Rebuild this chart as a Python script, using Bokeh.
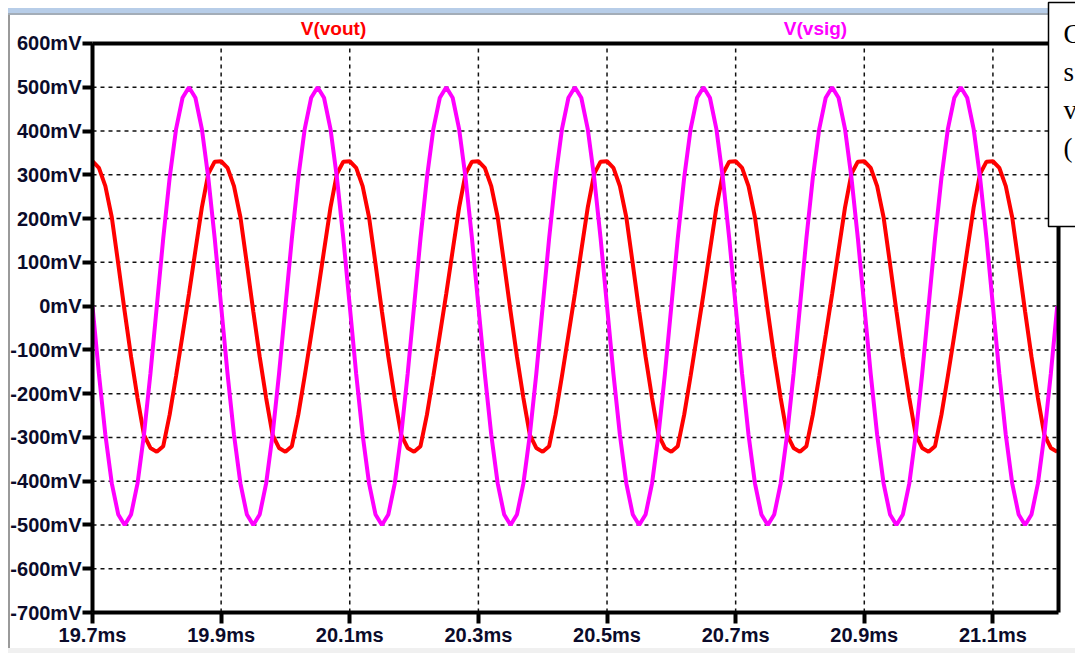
from bokeh.plotting import figure
from bokeh.models import (FixedTicker, PrintfTickFormatter, Label,
                          ColumnDataSource, Range1d)
from bokeh.embed import file_html
from bokeh.resources import INLINE

# ---------------- data ----------------
t_ms = [
    19.70, 19.71, 19.72, 19.73, 19.74, 19.75, 19.76, 19.77, 19.78, 19.79,
    19.80, 19.81, 19.82, 19.83, 19.84, 19.85, 19.86, 19.87, 19.88, 19.89,
    19.90, 19.91, 19.92, 19.93, 19.94, 19.95, 19.96, 19.97, 19.98, 19.99,
    20.00, 20.01, 20.02, 20.03, 20.04, 20.05, 20.06, 20.07, 20.08, 20.09,
    20.10, 20.11, 20.12, 20.13, 20.14, 20.15, 20.16, 20.17, 20.18, 20.19,
    20.20, 20.21, 20.22, 20.23, 20.24, 20.25, 20.26, 20.27, 20.28, 20.29,
    20.30, 20.31, 20.32, 20.33, 20.34, 20.35, 20.36, 20.37, 20.38, 20.39,
    20.40, 20.41, 20.42, 20.43, 20.44, 20.45, 20.46, 20.47, 20.48, 20.49,
    20.50, 20.51, 20.52, 20.53, 20.54, 20.55, 20.56, 20.57, 20.58, 20.59,
    20.60, 20.61, 20.62, 20.63, 20.64, 20.65, 20.66, 20.67, 20.68, 20.69,
    20.70, 20.71, 20.72, 20.73, 20.74, 20.75, 20.76, 20.77, 20.78, 20.79,
    20.80, 20.81, 20.82, 20.83, 20.84, 20.85, 20.86, 20.87, 20.88, 20.89,
    20.90, 20.91, 20.92, 20.93, 20.94, 20.95, 20.96, 20.97, 20.98, 20.99,
    21.00, 21.01, 21.02, 21.03, 21.04, 21.05, 21.06, 21.07, 21.08, 21.09,
    21.10, 21.11, 21.12, 21.13, 21.14, 21.15, 21.16, 21.17, 21.18, 21.19,
    21.20,
]

v_sig_mV = [
    0, -155, -294, -405, -476, -500, -476, -405, -294, -155,
    0, 155, 294, 405, 476, 500, 476, 405, 294, 155,
    0, -155, -294, -405, -476, -500, -476, -405, -294, -155,
    0, 155, 294, 405, 476, 500, 476, 405, 294, 155,
    0, -155, -294, -405, -476, -500, -476, -405, -294, -155,
    0, 155, 294, 405, 476, 500, 476, 405, 294, 155,
    0, -155, -294, -405, -476, -500, -476, -405, -294, -155,
    0, 155, 294, 405, 476, 500, 476, 405, 294, 155,
    0, -155, -294, -405, -476, -500, -476, -405, -294, -155,
    0, 155, 294, 405, 476, 500, 476, 405, 294, 155,
    0, -155, -294, -405, -476, -500, -476, -405, -294, -155,
    0, 155, 294, 405, 476, 500, 476, 405, 294, 155,
    0, -155, -294, -405, -476, -500, -476, -405, -294, -155,
    0, 155, 294, 405, 476, 500, 476, 405, 294, 155,
    0, -155, -294, -405, -476, -500, -476, -405, -294, -155,
    0,
]

v_out_mV = [
    331, 316, 274, 203, 97, -12, -116, -210, -294, -324,
    -333, -320, -248, -159, -66, 28, 127, 225, 302, 330,
    331, 316, 274, 203, 97, -12, -116, -210, -294, -324,
    -333, -320, -248, -159, -66, 28, 127, 225, 302, 330,
    331, 316, 274, 203, 97, -12, -116, -210, -294, -324,
    -333, -320, -248, -159, -66, 28, 127, 225, 302, 330,
    331, 316, 274, 203, 97, -12, -116, -210, -294, -324,
    -333, -320, -248, -159, -66, 28, 127, 225, 302, 330,
    331, 316, 274, 203, 97, -12, -116, -210, -294, -324,
    -333, -320, -248, -159, -66, 28, 127, 225, 302, 330,
    331, 316, 274, 203, 97, -12, -116, -210, -294, -324,
    -333, -320, -248, -159, -66, 28, 127, 225, 302, 330,
    331, 316, 274, 203, 97, -12, -116, -210, -294, -324,
    -333, -320, -248, -159, -66, 28, 127, 225, 302, 330,
    331, 316, 274, 203, 97, -12, -116, -210, -294, -324,
    -333,
]

x_ticks_ms = [19.7, 19.9, 20.1, 20.3, 20.5, 20.7, 20.9, 21.1]
y_ticks_mV = [-700, -600, -500, -400, -300, -200, -100, 0, 100, 200, 300, 400, 500, 600]
t_start, t_end = 19.7, 21.202          # plotted time window (ms)
v_min, v_max = -700, 600               # plotted voltage window (mV)
trace_names = ["V(vout)", "V(vsig)"]
trace_colors = ["#ff0000", "#ff00ff"]
note_letters = ["C", "s", "v", "("]

# ---------------- figure ----------------
# The frame is stretched to the top and right canvas edges so that the trace
# names and the overlapping note box (which sit outside the plot box) can be
# drawn; the plot box itself is outlined with the axes and border segments.
src = ColumnDataSource(dict(t=t_ms, vout=v_out_mV, vsig=v_sig_mV))

p = figure(width=1075, height=653, output_backend="svg", toolbar_location=None,
           x_range=Range1d(19.7, 21.2284), y_range=Range1d(-700, 698.24),
           min_border_left=92, min_border_right=0, min_border_top=0,
           min_border_bottom=41, background_fill_color=None,
           border_fill_color=None)
p.outline_line_color = None

# LTspice pane chrome painted behind the transparent canvas
p.styles = {
    "background":
        "linear-gradient(#b7cde8,#b7cde8) 8px 8px / 1067px 5px no-repeat, "
        "linear-gradient(#a3adb8,#a3adb8) 8px 13px / 1067px 2px no-repeat, "
        "linear-gradient(#9a9a9a,#9a9a9a) 8px 13px / 2px 635px no-repeat, "
        "linear-gradient(#f0f0f0,#f0f0f0) 8px 648px / 1067px 5px no-repeat, "
        "white"
}

p.xaxis.ticker = FixedTicker(ticks=x_ticks_ms)
p.yaxis.ticker = FixedTicker(ticks=y_ticks_mV)
p.xaxis.formatter = PrintfTickFormatter(format="%.1fms")
p.yaxis.formatter = PrintfTickFormatter(format="%dmV")
p.xaxis.bounds = (t_start, t_end)
p.yaxis.bounds = (v_min, v_max)

for ax in (p.xaxis, p.yaxis):
    ax.axis_line_width = 4
    ax.axis_line_color = "black"
    ax.major_tick_line_width = 4
    ax.major_tick_line_color = "black"
    ax.major_tick_in = 0
    ax.minor_tick_line_color = None
    ax.major_label_text_font = "Liberation Sans"
    ax.major_label_text_font_style = "bold"
    ax.major_label_text_font_size = "20px"
    ax.major_label_text_color = "#0b0b2a"
p.xaxis.major_tick_out = 11
p.yaxis.major_tick_out = 10
p.xaxis.major_label_standoff = 0
p.yaxis.major_label_standoff = 1

# dashed grid limited to the plot box
p.grid.visible = False
p.segment(x0=x_ticks_ms, y0=[v_min] * len(x_ticks_ms),
          x1=x_ticks_ms, y1=[v_max] * len(x_ticks_ms),
          line_color="#111111", line_width=1.5, line_dash="4 4")
p.segment(x0=[t_start] * len(y_ticks_mV), y0=y_ticks_mV,
          x1=[t_end] * len(y_ticks_mV), y1=y_ticks_mV,
          line_color="#111111", line_width=1.5, line_dash="4 4")

p.line("t", "vout", source=src, line_color=trace_colors[0], line_width=4)
p.line("t", "vsig", source=src, line_color=trace_colors[1], line_width=4)

# top and right borders of the plot box
p.segment(x0=[t_start, t_end], y0=[v_max, v_min], x1=[t_end, t_end], y1=[v_max, v_max],
          line_color="black", line_width=4, line_cap="square")

# trace names above the plot box
title_sx = [333, 815]
for name, col, sx in zip(trace_names, trace_colors, title_sx):
    p.add_layout(Label(x=sx, y=28, x_units="canvas", y_units="canvas",
                       text=name, text_color=col,
                       text_font="Liberation Sans", text_font_style="bold",
                       text_font_size="19px", text_align="center",
                       text_baseline="middle"))

# overlapping note box at the top right (partly outside the window)
p.add_layout(Label(x=1048, y=2, x_units="canvas", y_units="canvas", text=" ",
                   text_font_size="10px", text_align="left", text_baseline="top",
                   padding=dict(left=0, right=40, top=0, bottom=213),
                   background_fill_color="white", background_fill_alpha=1,
                   border_line_color="black", border_line_width=1.5))
for i, ch in enumerate(note_letters):
    p.add_layout(Label(x=1063, y=33 + 38 * i, x_units="canvas", y_units="canvas",
                       text=ch, text_color="black",
                       text_font="Liberation Serif", text_font_size="27px",
                       text_align="left", text_baseline="middle"))

open("out.html", "w").write(file_html(p, INLINE))
